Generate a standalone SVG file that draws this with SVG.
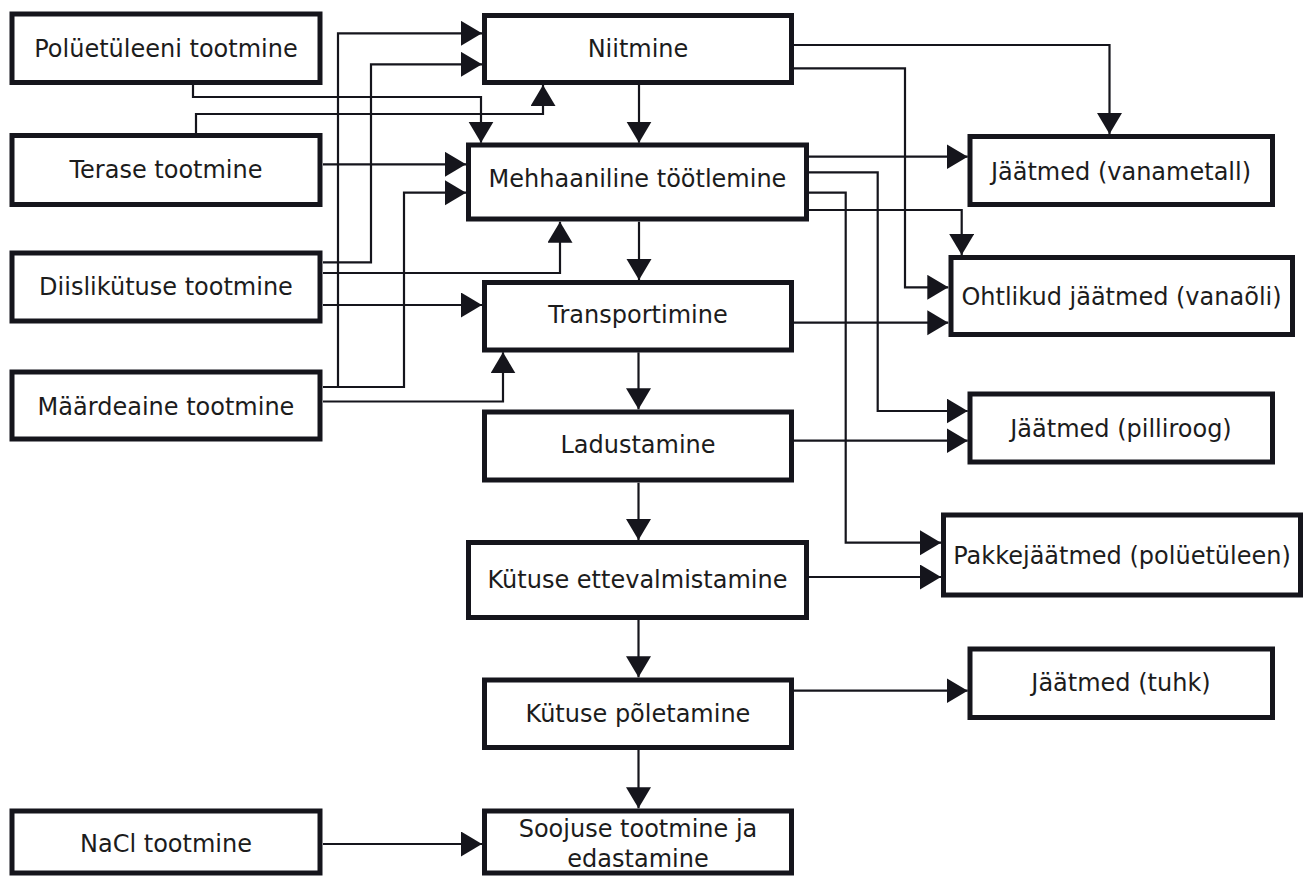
<svg xmlns="http://www.w3.org/2000/svg" width="1311" height="878" viewBox="0 0 1311 878">
<style>
.box{fill:#fff;stroke:#15151c;stroke-width:5}
.lbl{font-family:"DejaVu Sans",sans-serif;font-size:24px;fill:#1c1c1c;text-anchor:middle}
.c{fill:none;stroke:#15151c;stroke-width:2.2;marker-end:url(#ah)}
</style>
<defs>
<marker id="ah" markerUnits="userSpaceOnUse" markerWidth="22" markerHeight="26" refX="21" refY="12.5" orient="auto">
<path d="M0,0 L21,12.5 L0,25 z" fill="#15151c"/>
</marker>
</defs>
<rect width="1311" height="878" fill="#fff"/>
<g id="connectors">
<path class="c" d="M193,85 V97 H481 V142.7"/>
<path class="c" d="M196,133 V114 H543 V85"/>
<path class="c" d="M323,164.3 H466"/>
<path class="c" d="M323,387 H404 V192.7 H466"/>
<path class="c" d="M338,387 V33.3 H482"/>
<path class="c" d="M323,262.3 H371 V64.3 H482"/>
<path class="c" d="M323,273 H560 V221.7"/>
<path class="c" d="M323,305 H482"/>
<path class="c" d="M323,401.5 H503 V352.3"/>
<path class="c" d="M639,85 V142.7"/>
<path class="c" d="M639,221.7 V280"/>
<path class="c" d="M638.5,352.3 V409.3"/>
<path class="c" d="M638.5,482.7 V540"/>
<path class="c" d="M638.5,620 V677.3"/>
<path class="c" d="M638.5,750 V808.3"/>
<path class="c" d="M794,45 H1109.5 V134"/>
<path class="c" d="M794,68.3 H905 V287.3 H948.3"/>
<path class="c" d="M809,156.7 H967.7"/>
<path class="c" d="M809,172.3 H877.7 V411 H967.7"/>
<path class="c" d="M809,192.7 H845.7 V542.7 H941"/>
<path class="c" d="M809,210 H961.7 V255"/>
<path class="c" d="M794,322.7 H948.3"/>
<path class="c" d="M794,440.7 H967.7"/>
<path class="c" d="M809,577 H941"/>
<path class="c" d="M794,690.7 H967.7"/>
<path class="c" d="M323,844 H482"/>
</g>
<g id="polyetyleen"><rect class="box" x="12" y="14" width="308" height="68.5"/><text class="lbl" x="166" y="57">Polüetüleeni tootmine</text></g>
<g id="teras"><rect class="box" x="12" y="135.5" width="308" height="69"/><text class="lbl" x="166" y="178">Terase tootmine</text></g>
<g id="diisel"><rect class="box" x="12" y="253" width="308" height="68"/><text class="lbl" x="166" y="295">Diislikütuse tootmine</text></g>
<g id="maardeaine"><rect class="box" x="12" y="372" width="308" height="67"/><text class="lbl" x="166" y="414.5">Määrdeaine tootmine</text></g>
<g id="nacl"><rect class="box" x="12" y="811" width="308" height="62"/><text class="lbl" x="166" y="852">NaCl tootmine</text></g>
<g id="niitmine"><rect class="box" x="484.5" y="15.5" width="307" height="67"/><text class="lbl" x="638" y="57">Niitmine</text></g>
<g id="mehhaaniline"><rect class="box" x="468.5" y="145" width="338" height="74"/><text class="lbl" x="637.5" y="187">Mehhaaniline töötlemine</text></g>
<g id="transport"><rect class="box" x="484.5" y="282.5" width="307" height="67.5"/><text class="lbl" x="638" y="323">Transportimine</text></g>
<g id="ladustamine"><rect class="box" x="484.5" y="412" width="307" height="68"/><text class="lbl" x="638" y="453">Ladustamine</text></g>
<g id="ettevalmistamine"><rect class="box" x="468.5" y="542.5" width="338" height="75"/><text class="lbl" x="637.5" y="588">Kütuse ettevalmistamine</text></g>
<g id="poletamine"><rect class="box" x="484.5" y="680" width="307" height="67.5"/><text class="lbl" x="638" y="721.5">Kütuse põletamine</text></g>
<g id="soojus"><rect class="box" x="484.5" y="811" width="307" height="62"/><text class="lbl" x="638" y="837">Soojuse tootmine ja</text><text class="lbl" x="638" y="866.5">edastamine</text></g>
<g id="vanametall"><rect class="box" x="970" y="136.5" width="302.5" height="68"/><text class="lbl" x="1121" y="179.5">Jäätmed (vanametall)</text></g>
<g id="vanaoli"><rect class="box" x="951" y="257.5" width="341.5" height="77"/><text class="lbl" x="1121.5" y="304.5">Ohtlikud jäätmed (vanaõli)</text></g>
<g id="pilliroog"><rect class="box" x="970" y="394" width="302.5" height="68"/><text class="lbl" x="1121" y="436.5">Jäätmed (pilliroog)</text></g>
<g id="pakkejaatmed"><rect class="box" x="943.5" y="515" width="357" height="80"/><text class="lbl" x="1122" y="563.5">Pakkejäätmed (polüetüleen)</text></g>
<g id="tuhk"><rect class="box" x="970" y="649" width="302.5" height="68.5"/><text class="lbl" x="1121" y="691">Jäätmed (tuhk)</text></g>
</svg>
